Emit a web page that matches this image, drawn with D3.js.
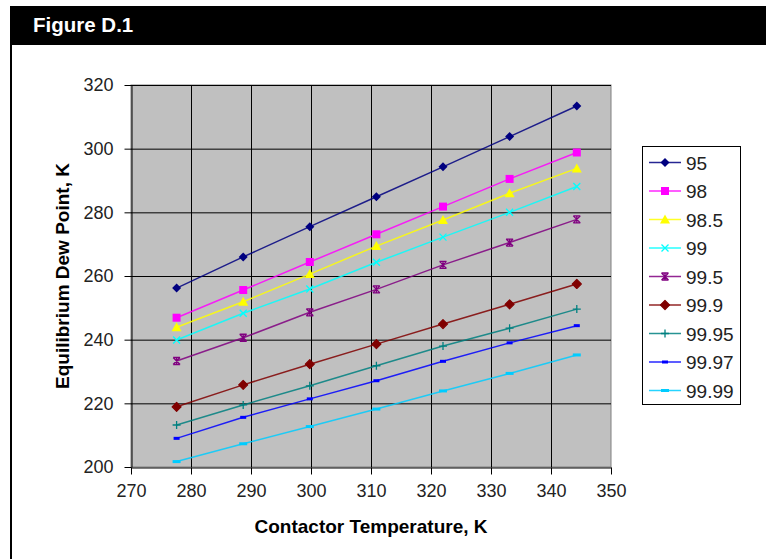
<!DOCTYPE html>
<html>
<head>
<meta charset="utf-8">
<script src="https://cdn.jsdelivr.net/npm/d3@7"></script>
<style>
  html, body { margin: 0; padding: 0; background: #fff; }
  svg { display: block; font-family: Arial, "Liberation Sans", sans-serif; }
</style>
</head>
<body>
<svg id="chart" width="766" height="559"></svg>
<script>
// Contactor temperatures (40..160 °F expressed in K)
const temperatures = [277.6, 288.7, 299.8, 310.9, 322.0, 333.1, 344.3];

// Glycol purity (wt %) for each curve
const purities = ["95", "98", "98.5", "99", "99.5", "99.9", "99.95", "99.97", "99.99"];

// Equilibrium dew point (K) per purity
const dew95    = [256.2, 266.0, 275.5, 284.9, 294.3, 303.8, 313.4];
const dew98    = [246.9, 255.6, 264.4, 273.1, 281.8, 290.5, 298.8];
const dew98_5  = [243.9, 251.9, 260.6, 269.4, 277.6, 286.0, 293.8];
const dew99    = [239.9, 248.3, 255.9, 264.3, 272.2, 280.0, 288.1];
const dew99_5  = [233.3, 240.6, 248.6, 255.8, 263.5, 270.5, 277.8];
const dew99_9  = [218.9, 225.8, 232.3, 238.6, 244.9, 251.1, 257.5];
const dew99_95 = [213.2, 219.5, 225.5, 231.8, 238.0, 243.6, 249.6];
const dew99_97 = [209.0, 215.6, 221.4, 227.1, 233.2, 239.0, 244.4];
const dew99_99 = [201.7, 207.3, 212.7, 218.2, 223.9, 229.4, 235.2];

// Axis ticks
const xTicks = [270, 280, 290, 300, 310, 320, 330, 340, 350];
const yTicks = [200, 220, 240, 260, 280, 300, 320];

const seriesValues = [dew95, dew98, dew98_5, dew99, dew99_5, dew99_9, dew99_95, dew99_97, dew99_99];
const colors  = ["#000080", "#FF00FF", "#FFFF00", "#00FFFF", "#800080", "#800000", "#008080", "#0000FF", "#00CCFF"];
const markers = ["diamond", "square", "triangle", "x", "star", "circle", "plus", "dash", "longdash"];

const series = purities.map((p, i) => ({
  name: p, color: colors[i], marker: markers[i],
  points: temperatures.map((t, j) => ({ t, v: seriesValues[i][j] }))
}));

const svg = d3.select("#chart");

// Frame: black title band and left rule
svg.append("rect").attr("x", 10).attr("y", 6).attr("width", 756).attr("height", 39).attr("fill", "#000");
svg.append("rect").attr("x", 10).attr("y", 45).attr("width", 2).attr("height", 514).attr("fill", "#000");
svg.append("text").attr("x", 33).attr("y", 32)
  .attr("fill", "#fff").attr("font-weight", "bold").attr("font-size", 20.5)
  .text("Figure D.1");

// Plot area
const plot = { left: 131, right: 611, top: 85, bottom: 467 };
const x = d3.scaleLinear().domain([270, 350]).range([plot.left, plot.right]);
const y = d3.scaleLinear().domain([200, 320]).range([plot.bottom, plot.top]);

svg.append("rect")
  .attr("x", plot.left).attr("y", plot.top)
  .attr("width", plot.right - plot.left).attr("height", plot.bottom - plot.top)
  .attr("fill", "#C0C0C0").attr("stroke", "#808080").attr("stroke-width", 1);

// Gridlines
const grid = svg.append("g");
grid.selectAll("line.v").data(xTicks.slice(1, -1)).join("line")
  .attr("x1", d => x(d) + 0.5).attr("x2", d => x(d) + 0.5)
  .attr("y1", plot.top).attr("y2", plot.bottom)
  .attr("stroke", "#000").attr("stroke-width", 1);
grid.selectAll("line.h").data(yTicks.slice(1)).join("line")
  .attr("x1", plot.left).attr("x2", plot.right)
  .attr("y1", d => y(d) + 0.5).attr("y2", d => y(d) + 0.5)
  .attr("stroke", "#000").attr("stroke-width", 1);

// Axes
const xAxis = d3.axisBottom(x).tickValues(xTicks).tickSize(7).tickPadding(10).tickSizeOuter(0);
const yAxis = d3.axisLeft(y).tickValues(yTicks).tickSize(7).tickPadding(11).tickSizeOuter(0);

const gx = svg.append("g").attr("transform", `translate(0,${plot.bottom + 0.5})`).call(xAxis);
const gy = svg.append("g").attr("transform", `translate(${plot.left + 0.5},0)`).call(yAxis);
[gx, gy].forEach(g => {
  g.select(".domain").attr("stroke", "#000");
  g.selectAll(".tick line").attr("stroke", "#000");
  g.selectAll(".tick text").attr("font-size", 18).attr("fill", "#222")
    .attr("font-family", "Arial, 'Liberation Sans', sans-serif");
});

// Axis titles
svg.append("text")
  .attr("x", (plot.left + plot.right) / 2).attr("y", 533)
  .attr("text-anchor", "middle").attr("font-weight", "bold").attr("font-size", 19)
  .text("Contactor Temperature, K");
svg.append("text")
  .attr("transform", `translate(69,${(plot.top + plot.bottom) / 2}) rotate(-90)`)
  .attr("text-anchor", "middle").attr("font-weight", "bold").attr("font-size", 19)
  .text("Equilibrium Dew Point, K");

// Marker drawing
function drawMarker(sel, type, color) {
  switch (type) {
    case "diamond":
      sel.append("path").attr("d", "M0,-4.5L4.5,0L0,4.5L-4.5,0Z").attr("fill", color);
      break;
    case "square":
      sel.append("rect").attr("x", -4).attr("y", -4).attr("width", 8).attr("height", 8).attr("fill", color);
      break;
    case "triangle":
      sel.append("path").attr("d", "M0,-5L5,4L-5,4Z").attr("fill", color);
      break;
    case "x":
      sel.append("path").attr("d", "M-3.5,-3.5L3.5,3.5M-3.5,3.5L3.5,-3.5").attr("stroke", color).attr("stroke-width", 1.3);
      break;
    case "star":
      sel.append("path").attr("d", "M-3.5,-3.5L3.5,3.5M-3.5,3.5L3.5,-3.5M0,-4L0,4M-3.5,-3.5L3.5,-3.5M-3.5,3.5L3.5,3.5")
        .attr("stroke", color).attr("stroke-width", 1.3);
      break;
    case "circle":
      sel.append("path").attr("d", "M0,-4.5L4.5,0L0,4.5L-4.5,0Z").attr("fill", color)
        .attr("stroke", color).attr("stroke-width", 1.2).attr("stroke-linejoin", "round");
      break;
    case "plus":
      sel.append("path").attr("d", "M-4,0L4,0M0,-4L0,4").attr("stroke", color).attr("stroke-width", 1.3);
      break;
    case "dash":
      sel.append("rect").attr("x", -3).attr("y", -1.5).attr("width", 6).attr("height", 3).attr("fill", color);
      break;
    case "longdash":
      sel.append("rect").attr("x", -4).attr("y", -1.5).attr("width", 8).attr("height", 3).attr("fill", color);
      break;
  }
}

// Series lines and markers
const line = d3.line().x(d => x(d.t)).y(d => y(d.v));
const gSeries = svg.append("g");
series.forEach(s => {
  gSeries.append("path").datum(s.points)
    .attr("d", line).attr("fill", "none")
    .attr("stroke", s.color).attr("stroke-width", 1.5).attr("stroke-opacity", 0.85);
  gSeries.selectAll(null).data(s.points).join("g")
    .attr("transform", d => `translate(${x(d.t)},${y(d.v)})`)
    .each(function () { drawMarker(d3.select(this), s.marker, s.color); });
});

// Legend
const legend = svg.append("g");
legend.append("rect").attr("x", 642.5).attr("y", 146.5).attr("width", 98).attr("height", 258)
  .attr("fill", "#fff").attr("stroke", "#000").attr("stroke-width", 1);
const ly = d3.scalePoint().domain(purities).range([162.5, 390.5]);
series.forEach(s => {
  const g = legend.append("g").attr("transform", `translate(0,${ly(s.name)})`);
  g.append("line").attr("x1", 649).attr("x2", 681).attr("y1", 0).attr("y2", 0)
    .attr("stroke", s.color).attr("stroke-width", 1.5).attr("stroke-opacity", 0.85);
  drawMarker(g.append("g").attr("transform", "translate(665,0)"), s.marker, s.color);
  g.append("text").attr("x", 686).attr("y", 7).attr("font-size", 19).attr("fill", "#222").text(s.name);
});
</script>
</body>
</html>
